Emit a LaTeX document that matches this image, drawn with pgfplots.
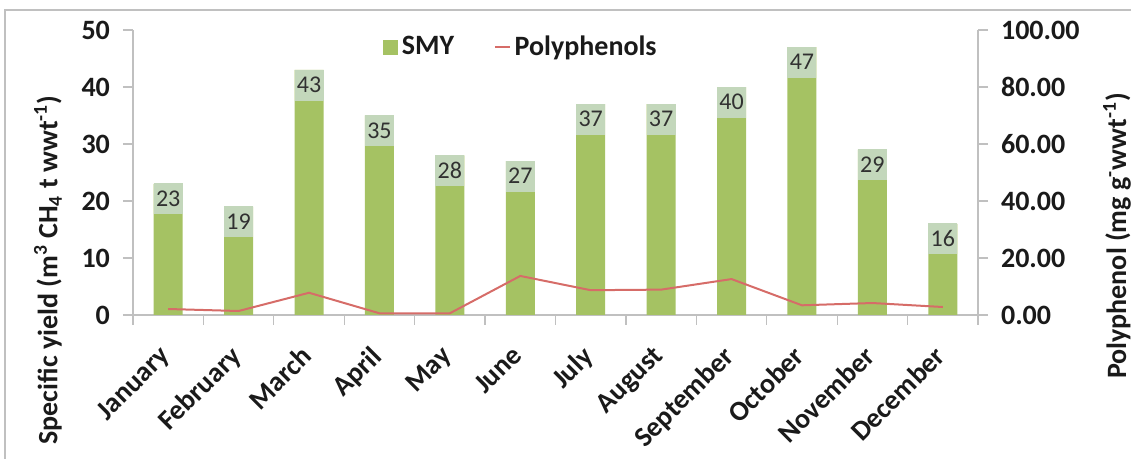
\documentclass[border=0pt]{standalone}
\usepackage{pgfplots}
\pgfplotsset{compat=1.18}
\usepackage{fontspec}
\setmainfont{Carlito}
\definecolor{barg}{HTML}{A5C263}
\definecolor{boxg}{HTML}{C3D7BB}
\definecolor{linr}{HTML}{D66C68}
\definecolor{axg}{HTML}{C0C0C0}
\definecolor{txt}{HTML}{1A1A1A}
\begin{document}
\begin{tikzpicture}
\useasboundingbox (-66.5pt,-72pt) rectangle (499pt,157.5pt);
\draw[axg, line width=0.6pt] (-64pt,-72pt) -- (-64pt,152.5pt) -- (499pt,152.5pt);
\begin{axis}[
  scale only axis, width=422.5pt, height=142.5pt,
  xmin=-0.5, xmax=11.5, ymin=0, ymax=50,
  axis y line*=left, axis x line*=bottom,
  axis line style={axg, line width=0.6pt},
  xtick={0,...,11},
  xticklabels={January,February,March,April,May,June,July,August,September,October,November,December},
  major x tick style={draw=none},
  minor xtick={-0.5,0.5,...,11.5},
  tick align=outside, major tick length=5pt, minor tick length=5pt,
  tick style={axg, line width=0.6pt},
  ytick={0,10,...,50},
  ticklabel style={font=\fontsize{14}{14}\selectfont\bfseries, text=txt},
  /pgf/number format/assume math mode=true,
  xticklabel style={xshift=-5pt, yshift=-8pt, rotate=45, anchor=north east, inner sep=1pt},
  yticklabel style={xshift=-3pt},
  ybar, bar width=14.5pt,
  nodes near coords,
  every node near coord/.append style={fill=boxg, minimum width=14.5pt, minimum height=15.5pt, inner sep=0pt, yshift=-15.5pt, font=\fontsize{12}{12}\selectfont, text=txt!90},
  legend style={at={(0.46,0.94)}, anchor=center, draw=none, fill=none, legend columns=2, font=\fontsize{14}{14}\selectfont\bfseries, text=txt, /tikz/every even column/.append style={column sep=18pt}, inner sep=0pt},
  legend cell align=left,
]
\addplot[fill=barg, draw=none, legend image code/.code={\fill[barg] (0pt,-3.75pt) rectangle (7.5pt,3.75pt);}] coordinates {
  (0,23) (1,19) (2,43) (3,35) (4,28) (5,27) (6,37) (7,37) (8,40) (9,47) (10,29) (11,16)};
\addlegendentry{SMY}
\addlegendimage{legend image code/.code={\draw[linr, line width=0.8pt] (0pt,0pt) -- (7.5pt,0pt);}}
\addlegendentry{Polyphenols}
\end{axis}
\begin{axis}[
  scale only axis, width=422.5pt, height=142.5pt,
  xmin=-0.5, xmax=11.5, ymin=0, ymax=100,
  axis y line*=right, axis x line=none,
  axis line style={axg, line width=0.6pt},
  ytick={0,20,...,100},
  tick align=outside, major tick length=5pt,
  tick style={axg, line width=0.6pt},
  ticklabel style={font=\fontsize{14}{14}\selectfont\bfseries, text=txt},
  /pgf/number format/assume math mode=true,
  yticklabel style={/pgf/number format/fixed, /pgf/number format/fixed zerofill, /pgf/number format/precision=2, xshift=3pt},
]
\addplot[linr, line width=1pt, mark=none] coordinates {
  (0,2.1) (1,1.4) (2,7.8) (3,0.6) (4,0.6) (5,13.7) (6,8.7) (7,8.9) (8,12.6) (9,3.4) (10,4.2) (11,2.8)};
\end{axis}
\node[rotate=90, font=\fontsize{14}{14}\selectfont\bfseries, text=txt] at (-42.5pt,22.5pt) {Specific yield (m\textsuperscript{3} CH\textsubscript{4} t wwt\textsuperscript{-1})};
\node[rotate=90, font=\fontsize{14}{14}\selectfont\bfseries, text=txt] at (492pt,39.5pt) {Polyphenol (mg g\textsuperscript{-}wwt\textsuperscript{-1})};
\end{tikzpicture}
\end{document}
